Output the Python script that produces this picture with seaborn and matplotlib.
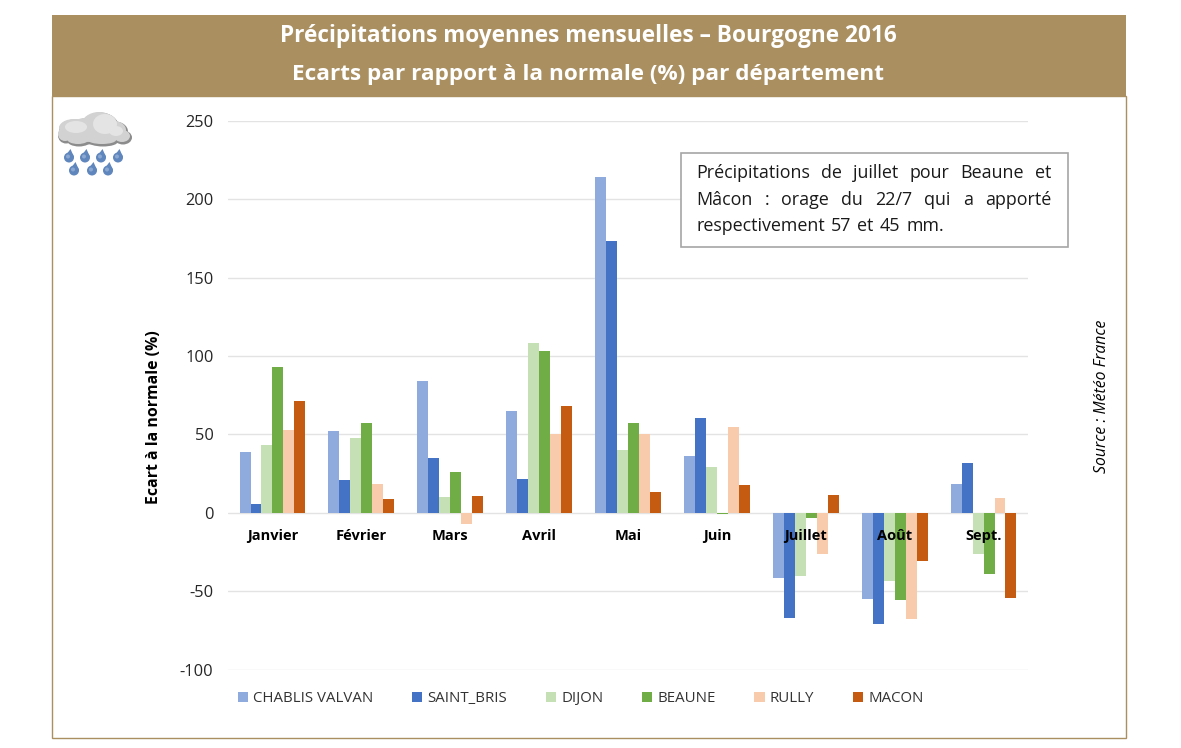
import numpy as np
import pandas as pd
import matplotlib
matplotlib.use("Agg")
import matplotlib.pyplot as plt
from matplotlib.patches import Rectangle, Ellipse, Polygon
import seaborn as sns

# values
mois = ["Janvier", "Février", "Mars", "Avril", "Mai", "Juin", "Juillet", "Août", "Sept."]
chablis = [38.5, 52.5, 84, 65, 214, 36, -41.5, -55, 18.5]
saint_bris = [5.5, 21, 35, 21.5, 173.5, 60.5, -67, -71, 32]
dijon = [43, 48, 10, 108.5, 40, 29, -40.5, -43.5, -26]
beaune = [93, 57, 26, 103, 57.5, -1, -3.2, -55.5, -39]
rully = [53, 18.5, -7, 50.5, 50, 55, -26.5, -67.5, 9.5]
macon = [71.5, 9, 11, 68, 13, 17.5, 11.5, -31, -54.5]

stations = ["CHABLIS VALVAN", "SAINT_BRIS", "DIJON", "BEAUNE", "RULLY", "MACON"]
couleurs = ["#8FAADC", "#4472C4", "#C5E0B4", "#70AD47", "#F8CBAD", "#C55A11"]

W, H = 1181, 748
TAN = "#AA8F61"

sns.set_theme(style="white")
plt.rcParams["font.family"] = ["Open Sans", "DejaVu Sans"]
plt.rcParams["axes.unicode_minus"] = False

# build long table for seaborn
df = pd.DataFrame({"mois": mois, stations[0]: chablis, stations[1]: saint_bris,
                   stations[2]: dijon, stations[3]: beaune, stations[4]: rully, stations[5]: macon})
df = df.melt(id_vars="mois", var_name="station", value_name="ecart")

fig = plt.figure(figsize=(W / 100, H / 100), dpi=100, facecolor="white")

# overlay in pixel coordinates for header, frame, icon and note
bg = fig.add_axes([0, 0, 1, 1], zorder=0)
bg.set_xlim(0, W)
bg.set_ylim(H, 0)
bg.axis("off")
bg.add_patch(Rectangle((52, 15), 1073.5, 81, facecolor=TAN, edgecolor="none"))
bg.add_patch(Rectangle((52, 96), 1073.5, 642, facecolor="white", edgecolor=TAN, linewidth=1))
bg.text(588.5, 35.5, "Précipitations moyennes mensuelles – Bourgogne 2016", color="white",
        fontsize=16.3, fontweight="bold", ha="center", va="center")
bg.text(588.5, 74, "Ecarts par rapport à la normale (%) par département", color="white",
        fontsize=16.2, fontweight="bold", ha="center", va="center")

# chart
ax = fig.add_axes([228 / W, 1 - 669.5 / H, 800 / W, 548.5 / H], zorder=1)
ax.patch.set_alpha(0)
sns.barplot(data=df, x="mois", y="ecart", hue="station", order=mois, hue_order=stations,
            palette=couleurs, saturation=1, width=0.74, gap=0, linewidth=0, edgecolor="none",
            ax=ax, legend=True)
ax.set_ylim(-100, 250)
ax.set_xlim(-0.5, 8.5)
ax.set_yticks(np.arange(-100, 251, 50))
ax.set_axisbelow(True)
ax.grid(axis="y", color="#E3E3E3", linewidth=1)
ax.grid(axis="x", visible=False)
sns.despine(ax=ax, left=True, bottom=True)
ax.tick_params(axis="y", length=0, pad=10.5, labelsize=11.8, labelcolor="#262626")
ax.set_xticks([])
ax.set_xlabel("")
ax.set_ylabel("")

# month names sit over the bars, so they are texts and not tick labels
for i, m in enumerate(mois):
    ax.text(i, -15, m, ha="center", va="center", fontsize=10.5, fontweight="bold", color="black", zorder=6)

handles, labels = ax.get_legend_handles_labels()
ax.get_legend().remove()
fig.legend(handles, labels, ncol=6, loc="center left", bbox_to_anchor=(230 / W, 1 - 698.5 / H),
           frameon=False, fontsize=10.8, handlelength=0.7, handleheight=0.7, handletextpad=0.35,
           columnspacing=2.55, borderpad=0, labelcolor="#333333")

# note box on top of the chart
top = fig.add_axes([0, 0, 1, 1], zorder=2)
top.set_xlim(0, W)
top.set_ylim(H, 0)
top.axis("off")
top.patch.set_alpha(0)
top.add_patch(Rectangle((680.5, 152.5), 387, 94, facecolor="white", edgecolor="#A6A6A6", linewidth=1.2))

note_lignes = ["Précipitations de juillet pour Beaune et", "Mâcon : orage du 22/7 qui a apporté",
               "respectivement 57 et 45 mm."]
renderer = fig.canvas.get_renderer()
for n, ligne in enumerate(note_lignes):
    y = 173 + n * 26.5
    mots = ligne.split(" ")
    textes = [top.text(0, y, m, fontsize=12.9, va="center", color="#1a1a1a") for m in mots]
    largeurs = [t.get_window_extent(renderer).width for t in textes]
    if n < 2:
        # justified lines
        esp = (1051 - 696 - sum(largeurs)) / (len(mots) - 1)
    else:
        esp = 6
    x = 696
    for t, l in zip(textes, largeurs):
        t.set_x(x)
        x += l + esp

top.text(154, 417, "Ecart à la normale (%)", rotation=90, fontsize=11.4, fontweight="bold",
         ha="center", va="center", color="black")
top.text(1102, 396, "Source : Météo France", rotation=90, fontsize=11.3, fontstyle="italic",
         ha="center", va="center", color="black")

# rain cloud icon
bosses = [(94, 134, 70, 18), (74, 128, 32, 20), (99, 126, 38, 30), (84, 124, 20, 14), (114, 130, 26, 20),
          (122, 136, 18, 14), (65, 134, 16, 16), (78, 139, 24, 12), (102, 140, 30, 10)]
for (cx, cy, w, h) in bosses:
    top.add_patch(Ellipse((cx + 1, cy + 1.5), w, h, facecolor="#8c8c8c", edgecolor="none"))
for (cx, cy, w, h) in bosses:
    top.add_patch(Ellipse((cx, cy), w - 2, h - 2, facecolor="#d2d2d2", edgecolor="none"))
for (cx, cy, w, h) in [(105, 124, 24, 20), (76, 127, 22, 12), (116, 131, 14, 10)]:
    top.add_patch(Ellipse((cx, cy), w, h, facecolor="#e4e4e4", edgecolor="none"))
for (dx, dy) in [(69, 156), (85, 156), (101, 156), (118, 156), (74, 169), (92, 169), (108, 169)]:
    top.add_patch(Polygon([(dx + 1.5, dy - 7), (dx + 5, dy + 1), (dx - 4.5, dy + 1)], facecolor="#5f86bd", edgecolor="none"))
    top.add_patch(Ellipse((dx, dy + 1.5), 10, 10, facecolor="#5f86bd", edgecolor="none"))
    top.add_patch(Ellipse((dx - 1, dy + 0.5), 4, 4, facecolor="#8aa8d2", edgecolor="none"))

fig.savefig("out.png", dpi=100, facecolor="white")
